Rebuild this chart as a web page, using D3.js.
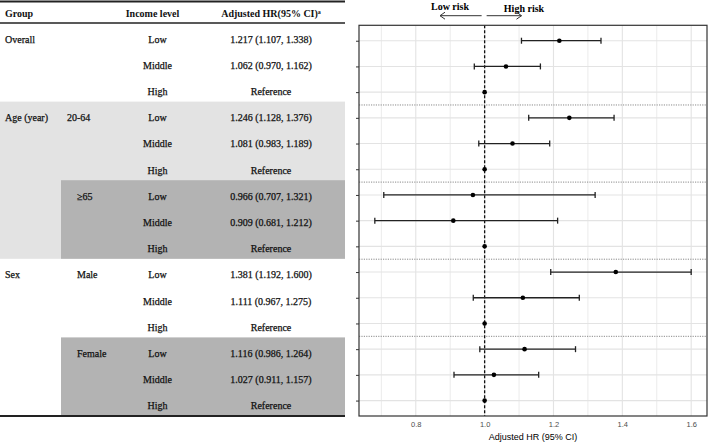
<!DOCTYPE html>
<html><head><meta charset="utf-8">
<script src="https://cdn.jsdelivr.net/npm/d3@7"></script>
<style>
html,body{margin:0;padding:0;background:#fff;}
svg{display:block;}
</style></head>
<body>
<svg id="chart" width="709" height="443"></svg>
<script>
// ---------- data ----------
const rowGroup     = ["Overall","","","Age (year)","","","","","","Sex","","","","",""];
const rowSubgroup  = ["","","","20-64","","","≥65","","","Male","","","Female","",""];
const rowIncome    = ["Low","Middle","High","Low","Middle","High","Low","Middle","High","Low","Middle","High","Low","Middle","High"];
const hrValues     = [1.217,1.062,1.000,1.246,1.081,1.000,0.966,0.909,1.000,1.381,1.111,1.000,1.116,1.027,1.000];
const ciLower      = [1.107,0.970,null,1.128,0.983,null,0.707,0.681,null,1.192,0.967,null,0.986,0.911,null];
const ciUpper      = [1.338,1.162,null,1.376,1.189,null,1.321,1.212,null,1.600,1.275,null,1.264,1.157,null];
const xTicks       = [0.8,1.0,1.2,1.4,1.6];
const headers      = ["Group","Income level","Adjusted HR(95% CI)"];

const rows = hrValues.map((v,i)=>({
  i, group:rowGroup[i], sub:rowSubgroup[i], income:rowIncome[i],
  hr:v, lo:ciLower[i], hi:ciUpper[i],
  text: ciLower[i]==null ? "Reference" : `${d3.format(".3f")(v)} (${d3.format(".3f")(ciLower[i])}, ${d3.format(".3f")(ciUpper[i])})`
}));

const svg = d3.select("#chart");
const serif = "'Liberation Serif','Times New Roman',serif";
const sans = "'Liberation Sans',Arial,sans-serif";

// ---------- table ----------
const tW = 345;
const tRow = d3.scaleBand().domain(d3.range(rows.length)).range([23,416]);
const T = svg.append("g");

// shading
const shade = [
  {from:3,to:8,x:0,color:"#e3e3e3"},
  {from:6,to:8,x:61,color:"#b3b3b3"},
  {from:12,to:14,x:61,color:"#b3b3b3"}
];
T.selectAll("rect.shade").data(shade).join("rect")
  .attr("x",d=>d.x).attr("width",d=>tW-d.x)
  .attr("y",d=>tRow(d.from)).attr("height",d=>tRow(d.to)+tRow.bandwidth()-tRow(d.from))
  .attr("fill",d=>d.color);

// rules
T.append("line").attr("x1",0).attr("x2",tW).attr("y1",1.5).attr("y2",1.5).attr("stroke","#222").attr("stroke-width",2);
T.append("line").attr("x1",0).attr("x2",tW).attr("y1",23).attr("y2",23).attr("stroke","#222").attr("stroke-width",1.3);
T.append("line").attr("x1",0).attr("x2",tW).attr("y1",416).attr("y2",416).attr("stroke","#222").attr("stroke-width",2);

// header
const hy = 17;
T.append("text").attr("x",5).attr("y",hy).text(headers[0]);
T.append("text").attr("x",152.5).attr("y",hy).attr("text-anchor","middle").text(headers[1]);
const h3 = T.append("text").attr("x",271).attr("y",hy).attr("text-anchor","middle");
h3.append("tspan").text(headers[2]);
h3.append("tspan").attr("font-size",6).attr("dy",-3).text("a");
T.selectAll("text").attr("font-family",serif).attr("font-size",10).attr("font-weight","bold").attr("fill","#111");

const ty = i => tRow(i) + 19.5;
const body = T.append("g").attr("font-family",serif).attr("font-size",10).attr("fill","#111")
  .style("stroke","#111").style("stroke-width","0.25px");
body.selectAll("text.grp").data(rows.filter(r=>r.group)).join("text")
  .attr("x",5).attr("y",r=>ty(r.i)).text(r=>r.group);
body.selectAll("text.sub").data(rows.filter(r=>r.sub)).join("text")
  .attr("x",r=>r.sub==="20-64"?67:77).attr("y",r=>ty(r.i)).text(r=>r.sub);
body.selectAll("text.inc").data(rows).join("text")
  .attr("x",157.5).attr("y",r=>ty(r.i)).attr("text-anchor","middle").text(r=>r.income);
body.selectAll("text.hr").data(rows).join("text")
  .attr("x",271).attr("y",r=>ty(r.i)).attr("text-anchor","middle").text(r=>r.text);

// ---------- forest plot ----------
const P = {l:359, r:707, t:25.3, b:416};
const lo = d3.min(ciLower.filter(v=>v!=null)), hi = d3.max(ciUpper.filter(v=>v!=null));
const pad = (hi-lo)*0.05;
const x = d3.scaleLinear().domain([lo-pad, hi+pad]).range([P.l,P.r]);
const y = d3.scalePoint().domain(d3.range(rows.length)).range([P.t,P.b]).padding(0.6);

const G = svg.append("g");
// grid minor
const minor = d3.range(0.7,1.65,0.2).map(v=>+v.toFixed(1));
G.selectAll("line.minor").data(minor).join("line")
  .attr("x1",d=>x(d)).attr("x2",d=>x(d)).attr("y1",P.t).attr("y2",P.b)
  .attr("stroke","#e6e6e6").attr("stroke-width",0.8);
G.selectAll("line.major").data(xTicks).join("line")
  .attr("x1",d=>x(d)).attr("x2",d=>x(d)).attr("y1",P.t).attr("y2",P.b)
  .attr("stroke","#e3e3e3").attr("stroke-width",1.1);
G.selectAll("line.hgrid").data(rows).join("line")
  .attr("x1",P.l).attr("x2",P.r).attr("y1",r=>y(r.i)).attr("y2",r=>y(r.i))
  .attr("stroke","#e3e3e3").attr("stroke-width",1.1);

// dotted separators between blocks
const seps = [2,5,8,11];
G.selectAll("line.sep").data(seps).join("line")
  .attr("x1",P.l).attr("x2",P.r)
  .attr("y1",d=>(y(d)+y(d+1))/2).attr("y2",d=>(y(d)+y(d+1))/2)
  .attr("stroke","#8a8a8a").attr("stroke-width",1).attr("stroke-dasharray","1.2,1.2");

// reference line
G.append("line").attr("x1",x(1)).attr("x2",x(1)).attr("y1",P.t).attr("y2",P.b)
  .attr("stroke","#111").attr("stroke-width",1.3).attr("stroke-dasharray","3,2");

// error bars
const ci = rows.filter(r=>r.lo!=null);
const eb = G.append("g").attr("stroke","#222").attr("stroke-width",1.3);
eb.selectAll("line.bar").data(ci).join("line")
  .attr("x1",r=>x(r.lo)).attr("x2",r=>x(r.hi)).attr("y1",r=>y(r.i)).attr("y2",r=>y(r.i));
eb.selectAll("line.capl").data(ci).join("line")
  .attr("x1",r=>x(r.lo)).attr("x2",r=>x(r.lo)).attr("y1",r=>y(r.i)-3).attr("y2",r=>y(r.i)+3);
eb.selectAll("line.caph").data(ci).join("line")
  .attr("x1",r=>x(r.hi)).attr("x2",r=>x(r.hi)).attr("y1",r=>y(r.i)-3).attr("y2",r=>y(r.i)+3);
G.selectAll("circle.pt").data(rows).join("circle")
  .attr("cx",r=>x(r.hr)).attr("cy",r=>y(r.i)).attr("r",2.3).attr("fill","#000");

// panel border
G.append("rect").attr("x",P.l).attr("y",P.t).attr("width",P.r-P.l).attr("height",P.b-P.t)
  .attr("fill","none").attr("stroke","#333").attr("stroke-width",1.2);

// axes
const xAxis = d3.axisBottom(x).tickValues(xTicks).tickFormat(d3.format(".1f")).tickSize(0).tickPadding(6);
const gx = svg.append("g").attr("transform",`translate(0,${P.b})`).call(xAxis);
gx.select(".domain").remove();
gx.selectAll("text").attr("font-family",sans).attr("font-size",7.5).attr("fill","#4d4d4d");

const yAxis = d3.axisLeft(y).tickSize(3).tickFormat("");
const gy = svg.append("g").attr("transform",`translate(${P.l},0)`).call(yAxis);
gy.select(".domain").remove();
gy.selectAll("line").attr("stroke","#333");

svg.append("text").attr("x",(P.l+P.r)/2).attr("y",440).attr("text-anchor","middle")
  .attr("font-family",sans).attr("font-size",9).attr("fill","#000").text("Adjusted HR (95% CI)");

// risk arrows
const A = svg.append("g");
const ay = 15.7;
A.append("text").attr("x",450).attr("y",10).attr("text-anchor","middle")
  .attr("font-family",serif).attr("font-weight","bold").attr("font-size",10).text("Low risk");
A.append("text").attr("x",524).attr("y",12).attr("text-anchor","middle")
  .attr("font-family",serif).attr("font-weight","bold").attr("font-size",10).text("High risk");
A.append("path").attr("d",`M${x(1)-3},${ay}H440M445,${ay-3.5}L440,${ay}L445,${ay+3.5}`)
  .attr("fill","none").attr("stroke","#333").attr("stroke-width",1);
A.append("path").attr("d",`M${x(1)+2},${ay}H521.5M516.5,${ay-3.5}L521.5,${ay}L516.5,${ay+3.5}`)
  .attr("fill","none").attr("stroke","#333").attr("stroke-width",1);
</script>
</body></html>
